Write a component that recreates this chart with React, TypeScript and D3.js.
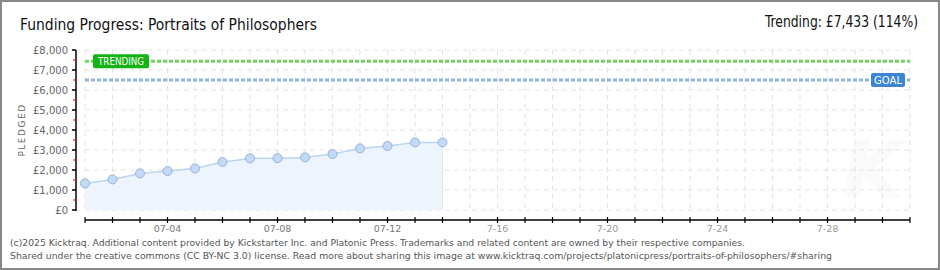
import React from 'react';
import * as d3 from 'd3';

const dates = ['2025-07-01','2025-07-02','2025-07-03','2025-07-04','2025-07-05','2025-07-06','2025-07-07','2025-07-08','2025-07-09','2025-07-10','2025-07-11','2025-07-12','2025-07-13','2025-07-14'];
const pledged = [1330, 1530, 1830, 1950, 2080, 2400, 2580, 2590, 2630, 2800, 3080, 3200, 3380, 3380];
const yTicks = [0, 1000, 2000, 3000, 4000, 5000, 6000, 7000, 8000];
const campaignStart = '2025-07-01';
const campaignEnd = '2025-07-31';
const labelDays = [4, 8, 12, 16, 20, 24, 28];
const goal = 6500;
const trending = 7433;
const title = 'Funding Progress: Portraits of Philosophers';
const trendingText = 'Trending:  £7,433 (114%)';
const footer1 = '(c)2025 Kicktraq. Additional content provided by Kickstarter Inc. and Platonic Press. Trademarks and related content are owned by their respective companies.';
const footer2 = 'Shared under the creative commons (CC BY-NC 3.0) license. Read more about sharing this image at www.kicktraq.com/projects/platonicpress/portraits-of-philosophers/#sharing';

export default function App() {
  const parse = d3.utcParse('%Y-%m-%d');
  const start = parse(campaignStart)!;
  const end = parse(campaignEnd)!;
  const x = d3.scaleUtc().domain([start, end]).range([85, 910]);
  const y = d3.scaleLinear().domain([0, 8000]).range([210, 50]);
  const pts = dates.map((d, i) => ({ d: parse(d)!, v: pledged[i] }));
  const lastDate = pts[pts.length - 1].d;
  const days = d3.utcDay.range(start, d3.utcDay.offset(end, 1));
  const minorTicks = d3.range(500, 8000, 1000);
  const line = d3.line<any>().x(p => x(p.d)).y(p => y(p.v));
  const area = d3.area<any>().x(p => x(p.d)).y0(y(0)).y1(p => y(p.v));
  const fmtPast = d3.utcFormat('%m-%d');
  const fmtFuture = d3.utcFormat('%-m-%d');
  const smallFont = 'DejaVu Sans';
  const x0 = x.range()[0], x1 = x.range()[1];
  const yt = y(trending), yg = y(goal);

  return (
    <svg width={940} height={270} style={{ position: 'absolute', left: 0, top: 0, background: '#fff' }}>
      <rect x={1} y={1} width={938} height={268} fill="#fff" stroke="#888" strokeWidth={2} />
      {/* watermark */}
      <text x={873} y={198} fontFamily="DejaVu Sans" fontStyle="italic" fontWeight="bold" fontSize={80} fill="#fafafa" textAnchor="middle">K</text>
      {/* title */}
      <text x={20} y={30} fontFamily="DejaVu Sans Condensed" fontSize={15} fill="#111" textLength={297} lengthAdjust="spacingAndGlyphs">{title}</text>
      <text x={918} y={27} fontFamily="DejaVu Sans Condensed" fontSize={15} fill="#111" textAnchor="end" textLength={153} lengthAdjust="spacingAndGlyphs">{trendingText}</text>
      {/* grid */}
      {yTicks.map(t => (
        <line key={'h' + t} x1={x0} x2={x1} y1={y(t)} y2={y(t)} stroke="#e3e3e3" strokeDasharray="5,4" />
      ))}
      {days.map((d, i) => (
        <line key={'v' + i} x1={x(d)} x2={x(d)} y1={y(8000)} y2={y(0)} stroke="#e3e3e3" strokeDasharray="5,4" />
      ))}
      {/* area + line */}
      <path d={area(pts)!} fill="#edf4fd" />
      <line x1={x(lastDate)} x2={x(lastDate)} y1={y(pledged[pledged.length - 1])} y2={y(0)} stroke="#dde8f6" />
      <path d={line(pts)!} fill="none" stroke="#b9d3f1" strokeWidth={1.5} />
      {pts.map((p, i) => (
        <circle key={'c' + i} cx={x(p.d)} cy={y(p.v)} r={4.5} fill="#c3daf6" stroke="#95b3da" strokeWidth={1} />
      ))}
      {/* trending & goal lines */}
      <line x1={x0} x2={x1} y1={yt} y2={yt} stroke="#72d45c" strokeWidth={3} strokeDasharray="4,2" />
      <line x1={x0} x2={x1} y1={yg} y2={yg} stroke="#8fb4e2" strokeWidth={3} strokeDasharray="4,2" />
      <g>
        <rect x={93} y={yt - 7} width={56} height={14} rx={2} fill="#12b312" />
        <text x={121} y={yt + 4} fontFamily={smallFont} fontSize={10.5} fill="#fff" textAnchor="middle" textLength={46} lengthAdjust="spacingAndGlyphs">TRENDING</text>
      </g>
      <g>
        <rect x={871} y={yg - 7} width={34} height={14} rx={2} fill="#3b86d6" />
        <text x={888} y={yg + 4} fontFamily={smallFont} fontSize={10.5} fill="#fff" textAnchor="middle" textLength={28} lengthAdjust="spacingAndGlyphs">GOAL</text>
      </g>
      {/* y axis */}
      <line x1={76} x2={76} y1={y(8000)} y2={y(0) + 1} stroke="#000" strokeWidth={1.5} />
      {yTicks.map(t => (
        <g key={'yt' + t}>
          <line x1={72} x2={76} y1={y(t)} y2={y(t)} stroke="#000" strokeWidth={1.5} />
          <text x={68} y={y(t) + 3.5} fontFamily={smallFont} fontSize={10} fill="#666" textAnchor="end">{'£' + d3.format(',')(t)}</text>
        </g>
      ))}
      {minorTicks.map(t => (
        <line key={'ym' + t} x1={73} x2={76} y1={y(t)} y2={y(t)} stroke="#e00" strokeWidth={1} />
      ))}
      <text transform={`translate(25,${(y(0) + y(8000)) / 2}) rotate(-90)`} fontFamily={smallFont} fontSize={9} fill="#666" textAnchor="middle" letterSpacing={1.5}>PLEDGED</text>
      {/* x axis */}
      <line x1={x0} x2={x1} y1={220} y2={220} stroke="#000" strokeWidth={1.5} />
      {days.map((d, i) => (
        <line key={'xt' + i} x1={x(d)} x2={x(d)} y1={217} y2={223} stroke="#000" strokeWidth={1.2} />
      ))}
      {days.filter(d => labelDays.includes(d.getUTCDate())).map((d, i) => {
        const past = d <= lastDate;
        return (
          <text key={'xl' + i} x={x(d)} y={232} fontFamily={smallFont} fontSize={9.5} fill={past ? '#777' : '#999'} textAnchor="middle">
            {past ? fmtPast(d) : fmtFuture(d)}
          </text>
        );
      })}
      {/* footer */}
      <text x={10} y={246} fontFamily={smallFont} fontSize={9.5} fill="#555" textLength={735} lengthAdjust="spacingAndGlyphs">{footer1}</text>
      <text x={10} y={259} fontFamily={smallFont} fontSize={9.5} fill="#555" textLength={822} lengthAdjust="spacingAndGlyphs">{footer2}</text>
    </svg>
  );
}
